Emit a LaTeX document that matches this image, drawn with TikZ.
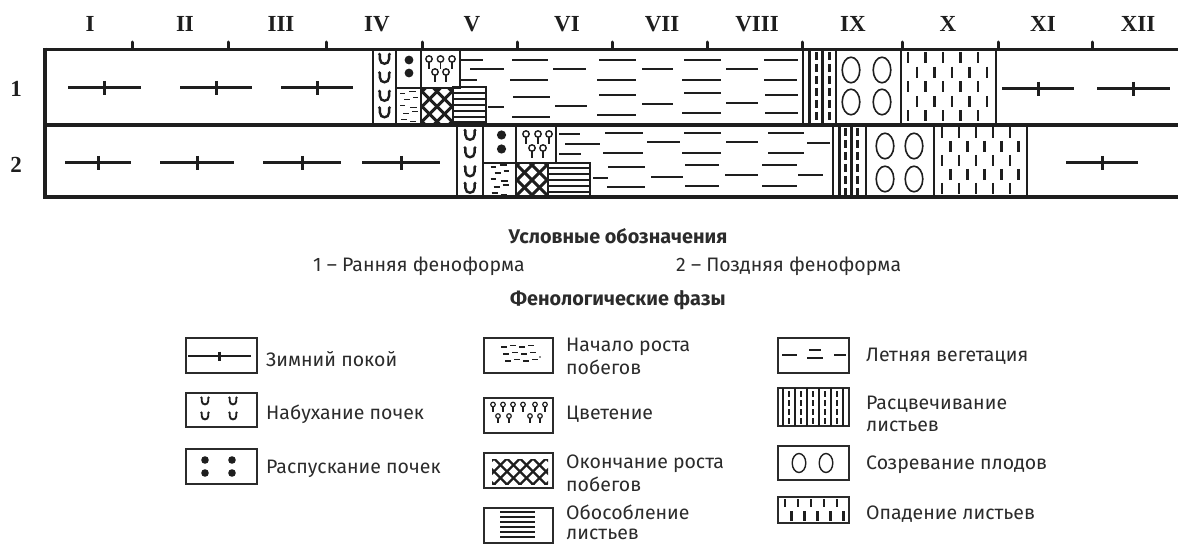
\documentclass[tikz,border=0pt]{standalone}
\usepackage{fontspec}
\setmainfont{Fira Sans}
\newfontfamily\monthfont{Liberation Serif}
\usetikzlibrary{calc}

\definecolor{ink}{HTML}{1E1E1E}
\definecolor{txt}{HTML}{2B2B2B}

\tikzset{
  frameline/.style={draw=ink, line width=3.6pt},
  cellbox/.style={draw=ink, line width=1.6pt},
  sumdash/.style={draw=ink, line width=1.9pt},
  fallstroke/.style={draw=ink, line width=2.6pt},
  colsolid/.style={draw=ink, line width=3pt},
  coldash/.style={draw=ink, line width=3pt, dash pattern=on 8pt off 4pt},
  stripe/.style={draw=ink, line width=2pt},
  monthlabel/.style={font=\monthfont\bfseries\fontsize{23}{23}\selectfont, text=ink, inner sep=0pt},
  legtext/.style={font=\fontsize{19.5}{22}\selectfont, text=txt, anchor=base west, inner sep=0pt},
  legbox/.style={draw=txt, line width=1.5pt},
  heading/.style={font=\bfseries\fontsize{19.8}{22}\selectfont, text=txt, inner sep=0pt},
}

% winter rest mark: bar from #1 to #2 at height #3, tick half-height #4, width #5
\newcommand\RestMark[5]{%
  \draw[draw=ink, line width=#5] (#1,#3) -- (#2,#3);
  \draw[draw=ink, line width=#5] ({(#1+#2)/2},{#3-#4}) -- ({(#1+#2)/2},{#3+#4});}
% swelling bud: cup shape centred at (#1,#2), size factor #3, stroke #4
\newcommand\BudCup[4]{%
  \draw[draw=ink, line width=#4, shift={(#1,#2)}, scale=#3]
    (-5,-4.8) -- (-4,-3.8) -- (-4,0) .. controls (-4,5.5) and (4,5.5) .. (4,0) -- (4,-3.8) -- (5,-4.8);}
% flower pin: circle centre (#1,#2), radius #3, stroke #4
\newcommand\FlowerPin[4]{%
  \draw[draw=ink, line width=#4] (#1,#2) circle[radius=#3];
  \draw[draw=ink, line width=#4] (#1,{#2+#3}) -- (#1,{#2+3.2*#3});}
% diagonal cross-hatching clipped to a rectangle
\newcommand\CrossHatch[6]{%
  \begin{scope}
    \clip (#1,#2) rectangle (#3,#4);
    \foreach \k in {-8,...,8}{
      \draw[draw=ink, line width=#6] ({(#1+#3)/2+\k*#5-30},{(#2+#4)/2-30}) -- ++(60,60);
      \draw[draw=ink, line width=#6] ({(#1+#3)/2+\k*#5-30},{(#2+#4)/2+30}) -- ++(60,-60);
    }
  \end{scope}}
% short staggered dashes of early shoot growth, centred at (#1,#2)
\newcommand\GrowthDashes[3]{%
  \begin{scope}[shift={(#1,#2)}, scale=#3]
    \foreach \a/\b/\yy in {-9/-4/-13, 0/7/-15, -5/1/-7, 4/9/-9, -9/-4/-1, 1/8/1,
                           -6/0/7, 3/9/5, -8/-2/13, 1/7/15}
      {\draw[draw=ink, line width=1.5pt] (\a,\yy) -- (\b,\yy);}
  \end{scope}}

\begin{document}
\begin{tikzpicture}[x=1pt, y=-1pt]
\useasboundingbox (0,0) rectangle (1178,545);

% ---------- month scale ----------
\foreach \lab/\xx [count=\i] in {I/90, II/185, III/281, IV/377, V/472, VI/567,
                                  VII/662, VIII/757, IX/853, X/948, XI/1043, XII/1138}
  {\node[monthlabel, name=m\i] at (\xx,24) {\lab};}
\foreach \xx in {132,228,326,422,517,612,707,802,902,998,1092}
  {\draw[draw=ink, line width=3pt, line cap=round] (\xx,42) -- (\xx,49.5);}

\node[monthlabel, name=r1] at (16,89) {1};
\node[monthlabel, name=r2] at (16,165) {2};

% ---------- row 1: early phenoform ----------
\RestMark{68}{141}{88}{7}{3pt}
\RestMark{180}{252}{88}{7}{3pt}
\RestMark{281}{353}{88}{7}{3pt}
\RestMark{1002}{1074}{89}{7}{3pt}
\RestMark{1097}{1170}{89}{7}{3pt}

\draw[cellbox] (373,49.5) rectangle (396,125);
\foreach \yy in {59,77.5,96,112.5} {\BudCup{384.5}{\yy}{1.15}{2.4pt}}
\draw[cellbox] (396,49.5) rectangle (421,88);
\fill[ink] (409,60) circle[radius=4.4] (409,73) circle[radius=4.4];
\draw[cellbox] (396,88) rectangle (421,125);
\GrowthDashes{409}{106.5}{1}
\draw[cellbox] (421,49.5) rectangle (460,88);
\FlowerPin{429}{59}{3.2}{1.4pt}
\FlowerPin{440.5}{59}{3.2}{1.4pt}
\FlowerPin{452}{59}{3.2}{1.4pt}
\FlowerPin{435}{72}{3.2}{1.4pt}
\FlowerPin{446}{72}{3.2}{1.4pt}
\CrossHatch{421}{88}{453}{125}{15}{3pt}
\draw[cellbox] (421,88) rectangle (453,125);
\foreach \yy in {93,99,105,111,117,122} {\draw[stripe] (453,\yy) -- (486,\yy);}
\draw[cellbox] (453,87) rectangle (486,125);

\foreach \a/\b/\yy in {460/483/60, 470/504/69, 460/477/80, 488/504/107,
    512/548/60, 510/548/80, 513/550/97, 512/550/117, 553/586/69, 555/587/106,
    599/636/60, 597/636/80, 599/636/95, 597/636/115, 642/673/69, 642/673/104,
    684/721/60, 682/721/80, 684/721/93, 682/721/113, 726/758/69, 726/758/103,
    764/798/60, 764/797/80, 765/798/95, 765/798/113}
  {\draw[sumdash] (\a,\yy) -- (\b,\yy);}

\draw[cellbox] (803,49.5) rectangle (836,125);
\draw[colsolid] (809.5,49.5) -- (809.5,125);
\draw[coldash]  (816,52) -- (816,125);
\draw[colsolid] (822.5,49.5) -- (822.5,125);
\draw[coldash]  (829,52) -- (829,125);
\draw[cellbox] (836,49.5) rectangle (901,125);
\foreach \cx/\cy in {851/70, 882/70, 851/102, 882/102}
  {\draw[draw=ink, line width=1.6pt] (\cx,\cy) ellipse[x radius=8.8, y radius=12.8];}
\draw[cellbox] (901,49.5) rectangle (996,125);
\foreach \r in {0,...,4}{
  \pgfmathsetmacro\off{mod(\r,2)*9}
  \foreach \c in {0,...,4}
    {\draw[fallstroke] ({908+\off+\c*17.5},{52+\r*14.6}) -- ++(0,11);}
}

% ---------- row 2: late phenoform ----------
\RestMark{65}{131}{163}{7}{3pt}
\RestMark{160}{234}{163}{7}{3pt}
\RestMark{263}{341}{163}{7}{3pt}
\RestMark{362}{440}{163}{7}{3pt}
\RestMark{1066}{1138}{163}{7}{3pt}

\draw[cellbox] (457,125) rectangle (483,197);
\foreach \yy in {135,152.5,171.5,188} {\BudCup{470}{\yy}{1.15}{2.4pt}}
\draw[cellbox] (483,125) rectangle (516,163);
\fill[ink] (501.5,135) circle[radius=4.6] (501.5,149) circle[radius=4.6];
\draw[cellbox] (483,163) rectangle (516,197);
\GrowthDashes{499.5}{180}{1}
\draw[cellbox] (516,125) rectangle (556,163);
\FlowerPin{526}{134}{3.2}{1.4pt}
\FlowerPin{538}{134}{3.2}{1.4pt}
\FlowerPin{549}{134}{3.2}{1.4pt}
\FlowerPin{532}{148}{3.2}{1.4pt}
\FlowerPin{543}{148}{3.2}{1.4pt}
\CrossHatch{516}{163}{548}{197}{15}{3pt}
\draw[cellbox] (516,163) rectangle (548,197);
\foreach \yy in {168,174,180,186,192} {\draw[stripe] (548,\yy) -- (590,\yy);}
\draw[cellbox] (548,163) rectangle (590,197);

\foreach \a/\b/\yy in {559/580/134, 565/600/144, 559/581/154, 593/608/178,
    605/643/133, 603/643/153, 608/645/167, 607/645/187, 647/680/142, 651/683/177,
    684/721/133, 682/721/153, 685/719/165, 685/719/186, 726/758/142, 725/758/175,
    768/804/133, 768/804/153, 762/797/165, 762/797/186, 807/830/143, 798/823/175}
  {\draw[sumdash] (\a,\yy) -- (\b,\yy);}

\draw[cellbox] (833,125) rectangle (866,197);
\draw[colsolid] (839,125) -- (839,197);
\draw[coldash]  (845,128) -- (845,197);
\draw[colsolid] (851,125) -- (851,197);
\draw[coldash]  (857,128) -- (857,197);
\draw[cellbox] (866,125) rectangle (934,197);
\foreach \cx/\cy in {885/146, 914/146, 885/179, 914/179}
  {\draw[draw=ink, line width=1.6pt] (\cx,\cy) ellipse[x radius=8.8, y radius=12.8];}
\draw[cellbox] (934,125) rectangle (1027,197);
\foreach \r in {0,...,4}{
  \pgfmathsetmacro\off{mod(\r,2)*8.5}
  \foreach \c in {0,...,4}
    {\draw[fallstroke] ({942+\off+\c*17},{127+\r*14}) -- ++(0,11);}
}

% ---------- chart frame ----------
\draw[draw=ink, line width=3pt] (45,49.5) -- (1178,49.5);
\draw[frameline] (45,125) -- (1178,125);
\draw[frameline] (45,197) -- (1178,197);
\draw[frameline] (45,47.7) -- (45,198.8);

% ---------- legend ----------
\node[heading, name=hlegend] at (618,236) {Условные обозначения};
\node[legtext, anchor=west, name=form1] at (313,266) {1 – Ранняя феноформа};
\node[legtext, anchor=west, name=form2] at (676,266) {2 – Поздняя феноформа};
\node[heading, name=hphases] at (618,300) {Фенологические фазы};

% captions
\node[legtext, name=t1] at (266,366) {Зимний покой};
\node[legtext, name=t2] at (266,419) {Набухание почек};
\node[legtext, name=t3] at (266,473) {Распускание почек};
\node[legtext, name=t4a] at (566,351) {Начало роста};
\node[legtext, name=t4b] at (566,374) {побегов};
\node[legtext, name=t5] at (566,419) {Цветение};
\node[legtext, name=t6a] at (566,468) {Окончание роста};
\node[legtext, name=t6b] at (566,491) {побегов};
\node[legtext, name=t7a] at (566,519) {Обособление};
\node[legtext, name=t7b] at (566,539) {листьев};
\node[legtext, name=t8] at (866,361) {Летняя вегетация};
\node[legtext, name=t9a] at (866,409) {Расцвечивание};
\node[legtext, name=t9b] at (866,431) {листьев};
\node[legtext, name=t10] at (866,469) {Созревание плодов};
\node[legtext, name=t11] at (866,519) {Опадение листьев};

% column 1 symbols
\draw[legbox] (186,338) rectangle (257,373);
\RestMark{188}{251}{356}{4.5}{2.2pt}

\draw[legbox] (186,393) rectangle (257,427);
\foreach \cx/\cy in {205/401, 233/401, 205/416, 233/416} {\BudCup{\cx}{\cy}{0.82}{1.9pt}}

\draw[legbox] (186,449) rectangle (257,484);
\fill[ink] (205,460) circle[radius=3.8] (232,460) circle[radius=3.8]
           (205,473) circle[radius=3.8] (232,473) circle[radius=3.8];

% column 2 symbols
\draw[legbox] (484,338) rectangle (553,373);
\foreach \a/\b/\yy in {501/507/347, 510/516/345.5, 519/525/347, 528/534/345.5,
                       503/509/354, 512/518/352.5, 521/527/354, 530/536/352.5,
                       505/511/361, 514/520/359.5, 523/529/361, 532/538/359.5}
  {\draw[draw=ink, line width=1.3pt] (\a,\yy) -- (\b,\yy);}
\fill[ink] (540,357) circle[radius=0.9];

\draw[legbox] (484,398) rectangle (553,433);
\foreach \cx in {493,503,513,523,535,545} {\FlowerPin{\cx}{404.5}{2.3}{1.2pt}}
\foreach \cx in {498,509,530,540} {\FlowerPin{\cx}{416}{2.3}{1.2pt}}

\draw[legbox] (484,453) rectangle (553,488);
\CrossHatch{492}{459}{548}{484}{13}{2.3pt}

\draw[legbox] (484,508) rectangle (553,543);
\foreach \yy in {512,517,522,527,532,537} {\draw[draw=ink, line width=2.2pt] (500,\yy) -- (535,\yy);}

% column 3 symbols
\draw[legbox] (778,338) rectangle (849,373);
\draw[draw=ink, line width=1.5pt] (782,355) -- (797,355);
\draw[draw=ink, line width=1.5pt] (809,350) -- (821,350);
\draw[draw=ink, line width=1.5pt] (807,358) -- (823,358);
\draw[draw=ink, line width=1.5pt] (834,355) -- (846,355);

\draw[legbox] (778,388) rectangle (849,426);
\foreach \xx in {783,795,807,819,831,843} {\draw[draw=ink, line width=1.8pt] (\xx,388) -- (\xx,426);}
\foreach \xx in {789,801,813,825,837} {\draw[draw=ink, line width=2.4pt, dash pattern=on 6pt off 3pt] (\xx,391) -- (\xx,426);}

\draw[legbox] (778,446) rectangle (849,480);
\draw[draw=ink, line width=1.4pt] (799,463) ellipse[x radius=6.8, y radius=9.5];
\draw[draw=ink, line width=1.4pt] (826,463) ellipse[x radius=6.8, y radius=9.5];

\draw[legbox] (778,497) rectangle (849,523);
\foreach \xx in {785,798,811,824,837} {\draw[draw=ink, line width=2.2pt] (\xx,499) -- (\xx,507);}
\foreach \xx in {791.5,804.5,817.5,830.5,843.5} {\draw[draw=ink, line width=2.2pt] (\xx,511) -- (\xx,521);}

\end{tikzpicture}
\end{document}
